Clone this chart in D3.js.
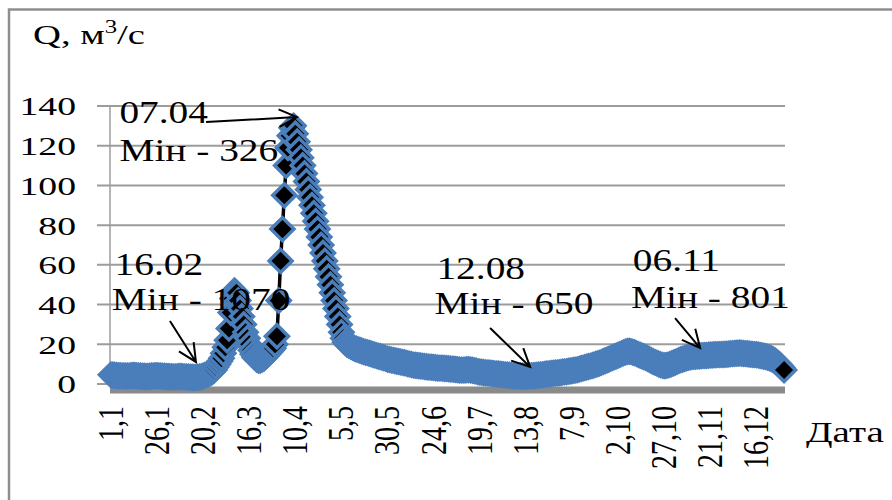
<!DOCTYPE html>
<html>
<head>
<meta charset="utf-8">
<script src="https://cdn.jsdelivr.net/npm/d3@7/dist/d3.min.js"></script>
<style>
  body { margin: 0; background: #fff; }
  svg { display: block; }
</style>
</head>
<body>
<svg id="chart" width="892" height="500"></svg>
<script>
// Daily discharge Q, m3/s, one value per day of a leap year (366 days)
const jan = [4.6, 4.5, 4.4, 4.3, 4.2, 4.2, 4.1, 4.1, 4.0, 4.0, 4.1, 4.2, 4.3, 4.3, 4.2, 4.1,
             4.0, 3.9, 3.9, 3.8, 3.8, 3.9, 4.0, 4.1, 4.2, 4.2, 4.1, 4.0, 3.9, 3.9, 3.8];
const feb = [3.8, 3.7, 3.7, 3.6, 3.6, 3.7, 3.8, 3.8, 3.7, 3.6, 3.5, 3.5, 3.4, 3.4, 3.3, 3.3,
             3.4, 3.5, 3.7, 4.0, 4.4, 4.8, 5.2, 5.6, 6.2, 7.0, 8.5, 10, 11.5];
const mar = [13, 15.5, 18.5, 22, 28, 36, 43, 47, 46, 42, 38, 34, 30, 26, 23, 20,
             17, 15, 13.5, 12.5, 12, 12, 12.5, 13, 14, 15, 16, 17, 18, 20, 24];
const apr = [42, 62, 78, 95, 110, 119, 125, 129, 130, 126, 122, 118, 114, 110, 106,
             102, 98, 94, 90, 86, 82, 78, 74, 70, 66, 62, 58, 54, 50, 46];
const may = [42, 38, 34, 30, 26, 23, 21, 20, 19.5, 19, 18.5, 18, 17.6, 17.3, 17, 16.6,
             16.3, 16, 15.8, 15.5, 15.2, 14.9, 14.6, 14.3, 14, 13.8, 13.5, 13.2, 12.9, 12.5, 12.3];
const jun = [12.1, 11.9, 11.7, 11.5, 11.3, 11.1, 10.9, 10.7, 10.5, 10.2, 10, 9.8, 9.5, 9.4, 9.3,
             9.2, 9.1, 9.0, 8.8, 8.7, 8.6, 8.5, 8.4, 8.3, 8.2, 8.1, 8.0, 8.0, 7.9, 7.8];
const jul = [7.8, 7.7, 7.6, 7.5, 7.4, 7.3, 7.2, 7.1, 7.0, 7.0, 7.1, 7.2, 7.2, 7.1, 6.9, 6.7,
             6.5, 6.2, 6.0, 5.9, 5.8, 5.7, 5.6, 5.5, 5.4, 5.3, 5.2, 5.1, 5.0, 4.9, 4.8];
const aug = [4.7, 4.6, 4.5, 4.4, 4.3, 4.2, 4.2, 4.1, 4.1, 4.0, 4.0, 3.9, 4.0, 4.0, 4.1, 4.2,
             4.2, 4.3, 4.4, 4.5, 4.6, 4.7, 4.8, 5.0, 5.1, 5.2, 5.3, 5.4, 5.5, 5.6, 5.7];
const sep = [5.8, 6.0, 6.1, 6.2, 6.4, 6.5, 6.7, 6.9, 7.0, 7.2, 7.5, 7.8, 8.0, 8.3, 8.6,
             8.8, 9.0, 9.3, 9.6, 9.9, 10.2, 10.5, 10.9, 11.3, 11.7, 12.1, 12.5, 12.9, 13.3, 13.7];
const oct = [14.1, 14.5, 14.9, 15.3, 15.7, 16.1, 16.4, 16.5, 16.3, 16.0, 15.7, 15.3, 14.9, 14.5, 14.1, 13.7,
             13.3, 12.8, 12.3, 11.8, 11.3, 10.9, 10.5, 10.1, 9.7, 9.4, 9.2, 9.3, 9.5, 9.8, 10.2];
const nov = [10.6, 11.0, 11.4, 11.8, 12.2, 12.5, 12.8, 13.1, 13.4, 13.6, 13.8, 13.9, 14.0, 14.1, 14.1,
             14.2, 14.3, 14.4, 14.4, 14.5, 14.6, 14.6, 14.7, 14.7, 14.8, 14.8, 14.9, 14.9, 15.0, 15.0];
const dec = [15.1, 15.2, 15.3, 15.4, 15.5, 15.5, 15.6, 15.5, 15.4, 15.3, 15.2, 15.1, 15.0, 14.9, 14.8, 14.7,
             14.6, 14.4, 14.2, 14.0, 13.8, 13.5, 13.2, 12.8, 12.3, 11.7, 11.0, 10.2, 9.3, 8.2, 7.0];

const discharge = [].concat(jan, feb, mar, apr, may, jun, jul, aug, sep, oct, nov, dec);

// Category labels shown every 25th day
const tickLabels = ["1,1", "26,1", "20,2", "16,3", "10,4", "5,5", "30,5", "24,6",
                    "19,7", "13,8", "7,9", "2,10", "27,10", "21,11", "16,12"];
const tickStep = 25;
const yTicks = [0, 20, 40, 60, 80, 100, 120, 140];

// Callout texts
const noteDates  = ["07.04", "16.02", "12.08", "06.11"];
const noteLabels = ["Мін - 326", "Мін - 1070", "Мін - 650", "Мін - 801"];

const yTitle = "Q, м";
const xTitle = "Дата";

const svg = d3.select("#chart");
const serif = "'Liberation Serif', 'Times New Roman', serif";

const plotL = 110, plotR = 785, plotT = 106, plotB = 384;

const x = d3.scaleBand()
  .domain(d3.range(discharge.length))
  .range([plotL, plotR]);
const cx = i => x(i) + x.bandwidth() / 2;

const y = d3.scaleLinear().domain([0, 140]).range([plotB, plotT]);

// outer frame
svg.append("rect")
  .attr("x", 9).attr("y", 9.5).attr("width", 1000).attr("height", 1000)
  .attr("fill", "none").attr("stroke", "#8e8e8e").attr("stroke-width", 2.5);

// gridlines with outside tick stubs
svg.append("g")
  .selectAll("line")
  .data(yTicks.filter(d => d > 0))
  .join("line")
  .attr("x1", plotL - 13).attr("x2", plotR)
  .attr("y1", d => y(d)).attr("y2", d => y(d))
  .attr("stroke", "#9c9c9c").attr("stroke-width", 2);

svg.append("line")
  .attr("x1", plotL - 13).attr("x2", plotL)
  .attr("y1", y(0)).attr("y2", y(0))
  .attr("stroke", "#9c9c9c").attr("stroke-width", 2);

// vertical axis line
svg.append("line")
  .attr("x1", plotL).attr("x2", plotL)
  .attr("y1", y(140)).attr("y2", y(0) + 2)
  .attr("stroke", "#9c9c9c").attr("stroke-width", 1.5);

// horizontal axis (thick band)
svg.append("rect")
  .attr("x", plotL).attr("y", y(0) + 2.5)
  .attr("width", plotR - plotL).attr("height", 7)
  .attr("fill", "#8a8a8a");

// helper for horizontally widened text
function wideText(g, tx, ty, sx, str, size, anchor, rot) {
  return g.append("text")
    .attr("transform", `translate(${tx},${ty}) scale(${sx},1)` + (rot ? ` rotate(${rot})` : ""))
    .attr("font-family", serif)
    .attr("font-size", size)
    .attr("text-anchor", anchor || "start")
    .attr("fill", "#000")
    .text(str);
}

// y tick labels
const yLab = svg.append("g");
yTicks.forEach(v => {
  wideText(yLab, 76, y(v), 1.45, String(v), 26, "end").attr("dy", "0.36em");
});

// x tick labels (rotated)
const xLab = svg.append("g");
tickLabels.forEach((t, k) => {
  wideText(xLab, cx(k * tickStep), 406, 1.25, t, 28, "end", -90).attr("dy", "0.34em");
});

// axis titles
const yt = wideText(svg, 33, 44, 1.38, yTitle, 28, "start");
yt.append("tspan").attr("font-size", 18).attr("dy", -11).text("3");
yt.append("tspan").attr("dy", 11).text("/с");
wideText(svg, 806, 442, 1.3, xTitle, 30, "start");

// series: black line then diamond markers drawn in order
const line = d3.line().x((d, i) => cx(i)).y(d => y(d));
svg.append("path")
  .datum(discharge)
  .attr("d", line)
  .attr("fill", "none")
  .attr("stroke", "#000")
  .attr("stroke-width", 3.5)
  .attr("stroke-linejoin", "round");

const r = 11.5;
const diamond = `M0,${-r}L${r},0L0,${r}L${-r},0Z`;
svg.append("g")
  .selectAll("path")
  .data(discharge)
  .join("path")
  .attr("transform", (d, i) => `translate(${cx(i)},${y(d)})`)
  .attr("d", diamond)
  .attr("fill", "#000")
  .attr("stroke", "#4a7ebb")
  .attr("stroke-width", 3.5)
  .attr("stroke-linejoin", "miter");

// callouts: text anchors and arrows placed in (day, Q) coordinates
const noteLayout = [
  { date: [4.6, 131.5], label: [4.6, 112.5], from: [51.6, 131.9], to: [100.9, 134.4] },
  { date: [2.0, 55],    label: [0.5, 37.5],  from: [32.0, 31.7],  to: [46.1, 11.1] },
  { date: [176.5, 53],  label: [175.5, 35.5], from: [205.6, 28.2], to: [227.3, 8.6] },
  { date: [283, 57],    label: [282, 38.5],  from: [305.9, 33.2], to: [319.5, 18.1] }
];
const xd = d => plotL + (d + 0.5) * x.step();

const notes = svg.append("g");
noteLayout.forEach((n, k) => {
  wideText(notes, xd(n.date[0]), y(n.date[1]), 1.27, noteDates[k], 31, "start");
  wideText(notes, xd(n.label[0]), y(n.label[1]), 1.27, noteLabels[k], 31, "start");
  const x1 = xd(n.from[0]), y1 = y(n.from[1]);
  const x2 = xd(n.to[0]), y2 = y(n.to[1]);
  const ang = Math.atan2(y2 - y1, x2 - x1);
  const hl = 20, ha = 0.45;
  const p = d3.path();
  p.moveTo(x1, y1); p.lineTo(x2, y2);
  p.moveTo(x2 - hl * Math.cos(ang - ha), y2 - hl * Math.sin(ang - ha));
  p.lineTo(x2, y2);
  p.lineTo(x2 - hl * Math.cos(ang + ha), y2 - hl * Math.sin(ang + ha));
  notes.append("path")
    .attr("d", p.toString())
    .attr("fill", "none")
    .attr("stroke", "#000")
    .attr("stroke-width", 2);
});
</script>
</body>
</html>
